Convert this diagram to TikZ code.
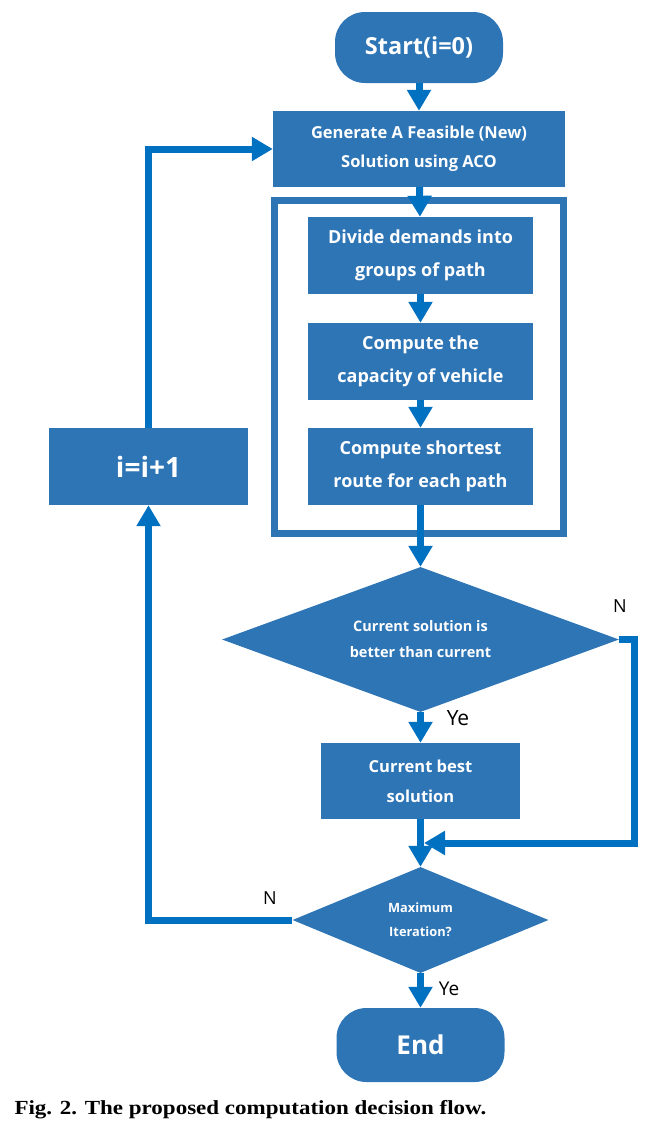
\documentclass[tikz,border=0pt]{standalone}
\usepackage{fontspec}
\setmainfont{Open Sans}
\newfontfamily\capfont{Liberation Serif}
\usetikzlibrary{arrows.meta,shapes.geometric}
\definecolor{boxblue}{RGB}{46,117,182}
\definecolor{lineblue}{RGB}{0,112,192}

\begin{document}
\begin{tikzpicture}[x=1pt, y=-1pt,
    box/.style={fill=boxblue, text=white, align=center, inner sep=0pt,
        font=\bfseries\fontsize{18}{33}\selectfont},
    terminal/.style={box, rounded corners=30pt, minimum width=168pt},
    decision/.style={diamond, fill=boxblue, text=white, align=center, inner sep=0pt},
    flow/.style={draw=lineblue, line width=7pt, -{Triangle[width=23pt,length=21pt]}},
    yesno/.style={font=\fontsize{18}{20}\selectfont}]
    \useasboundingbox (0,0) rectangle (659,1125);

    % start and main step
    \node[terminal, minimum height=71pt, font=\bfseries\fontsize{23.5}{28}\selectfont] (start) at (419,47.5) {Start(i=0)};
    \node[box, minimum width=292pt, minimum height=76pt, font=\bfseries\fontsize{16.5}{29}\selectfont] (gen) at (419,149) {Generate A Feasible (New)\\Solution using ACO};

    % inner steps in a frame
    \node[box, minimum width=225pt, minimum height=77pt] (divide) at (420.5,255.5) {Divide demands into\\groups of path};
    \node[box, minimum width=225pt, minimum height=77pt] (capacity) at (420.5,361.5) {Compute the\\capacity of vehicle};
    \node[box, minimum width=225pt, minimum height=77pt] (shortest) at (420.5,466.5) {Compute shortest\\route for each path};
    \draw[boxblue, line width=7pt] ([xshift=-33.5pt,yshift=16.5pt]divide.north west) rectangle ([xshift=30.5pt,yshift=-28.5pt]shortest.south east);

    % tests
    \node[decision, minimum width=397pt, minimum height=145pt, aspect=2.7, font=\bfseries\fontsize{14.5}{26}\selectfont] (dec1) at (420.5,639.5) {Current solution is\\better than current};
    \node[box, minimum width=199pt, minimum height=76pt, font=\bfseries\fontsize{16.5}{30}\selectfont] (best) at (420.5,781) {Current best\\solution};
    \node[decision, minimum width=256pt, minimum height=106pt, aspect=2.4, font=\bfseries\fontsize{12.8}{24}\selectfont] (dec2) at (420.5,920) {Maximum\\Iteration?};

    % counter and end
    \node[box, minimum width=199pt, minimum height=77pt, font=\bfseries\fontsize{28}{30}\selectfont] (incr) at (148.5,466.5) {i=i+1};
    \node[terminal, minimum height=74pt, font=\bfseries\fontsize{26}{30}\selectfont] (end) at (420.5,1045) {End};

    % arrows
    \draw[flow] (start) -- (gen);
    \draw[flow] (gen) -- (divide);
    \draw[flow] (divide) -- (capacity);
    \draw[flow] (capacity) -- (shortest);
    \draw[flow] (shortest) -- (dec1);
    \draw[flow] (dec1) -- (best);
    \draw[flow] (best) -- (dec2);
    \draw[flow] (dec2) -- (end);

    % N of first test joins below the best box
    \coordinate (corner) at (634,843);
    \draw[flow, shorten >=3.5pt] (dec1.east) -| (corner) -- (best.south |- corner);

    % loop back
    \draw[flow] (dec2.west) -| (incr.south);
    \draw[flow] (incr.north) |- (gen.west);

    % labels
    \node[yesno] (n1) at (620,606) {N};
    \node[yesno, font=\fontsize{21}{22}\selectfont] (y1) at (458,718) {Ye};
    \node[yesno] (n2) at (270,898) {N};
    \node[yesno, font=\fontsize{19}{20}\selectfont] (y2) at (449,989) {Ye};

    \node[anchor=base west, font=\capfont\bfseries\fontsize{20}{22}\selectfont] (caption) at (11,1114) {\scalebox{1.15}[1]{Fig. 2. The proposed computation decision flow.}};
\end{tikzpicture}
\end{document}
